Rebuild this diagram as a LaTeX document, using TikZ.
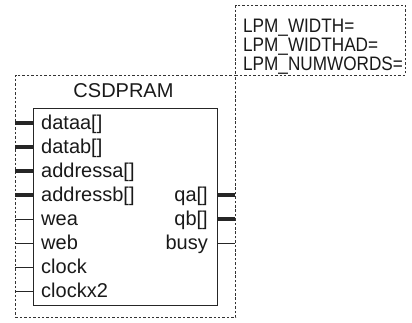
\documentclass[tikz,border=0pt]{standalone}
\usepackage{fontspec}
\setmainfont{Liberation Sans}
\newfontfamily\paramfont[FakeStretch=0.88]{Liberation Sans}
\begin{document}
\begin{tikzpicture}[x=1pt,y=-1pt,
  frame/.style={draw=black!80, dash pattern=on 2.5pt off 1.9pt, line width=1.1pt, inner sep=0pt, anchor=north west},
  body/.style={draw=black!85, line width=1.4pt, inner sep=0pt, anchor=north west},
  bus/.style={line width=4pt, draw=black!85},
  wire/.style={line width=1pt, draw=black!85},
  lbl/.style={font=\fontsize{20}{24}\selectfont, inner sep=0pt, text=black!90},
  plbl/.style={font=\paramfont\fontsize{19.5}{19}\selectfont, inner sep=0pt, text=black!90, anchor=base west}]
\useasboundingbox (0,0) rectangle (412,322);
% frames
\node[frame, minimum width=220pt, minimum height=242.5pt] (outer) at (15,74.5) {};
\node[frame, minimum width=170pt, minimum height=69.5pt] (params) at (235,5) {};
\node[body, minimum width=184pt, minimum height=197pt] (inner) at (33,108) {};
% title
\node[lbl, anchor=base] (title) at (123.5,97) {CSDPRAM};
% params
\node[plbl] (p1) at (243,32) {LPM\_WIDTH=};
\node[plbl] (p2) at (243,51) {LPM\_WIDTHAD=};
\node[plbl] (p3) at (243,70) {LPM\_NUMWORDS=};
% left pins
\coordinate (cA) at (15,123);
\coordinate (cB) at (15,147);
\coordinate (cC) at (15,171);
\coordinate (cD) at (15,195);
\coordinate (cE) at (15,219);
\coordinate (cF) at (15,243);
\coordinate (cG) at (15,267);
\coordinate (cH) at (15,291);
\draw[bus] (cA) -- (cA -| inner.west);
\draw[bus] (cB) -- (cB -| inner.west);
\draw[bus] (cC) -- (cC -| inner.west);
\draw[bus] (cD) -- (cD -| inner.west);
\draw[wire] (cE) -- (cE -| inner.west);
\draw[wire] (cF) -- (cF -| inner.west);
\draw[wire] (cG) -- (cG -| inner.west);
\draw[wire] (cH) -- (cH -| inner.west);
\node[lbl, anchor=base west] (lA) at (41,129.5) {dataa[]};
\node[lbl, anchor=base west] (lB) at (41,153.5) {datab[]};
\node[lbl, anchor=base west] (lC) at (41,177.5) {addressa[]};
\node[lbl, anchor=base west] (lD) at (41,201.5) {addressb[]};
\node[lbl, anchor=base west] (lE) at (41,225.5) {wea};
\node[lbl, anchor=base west] (lF) at (41,249.5) {web};
\node[lbl, anchor=base west] (lG) at (41,273.5) {clock};
\node[lbl, anchor=base west] (lH) at (41,297.5) {clockx2};
% right pins
\coordinate (rA) at (235,195);
\coordinate (rB) at (235,219);
\coordinate (rC) at (235,243);
\draw[bus] (rA -| inner.east) -- (rA);
\draw[bus] (rB -| inner.east) -- (rB);
\draw[wire] (rC -| inner.east) -- (rC);
\node[lbl, anchor=base east] (qa) at (208,201.5) {qa[]};
\node[lbl, anchor=base east] (qb) at (208,225.5) {qb[]};
\node[lbl, anchor=base east] (busy) at (208,249.5) {busy};
\end{tikzpicture}
\end{document}
